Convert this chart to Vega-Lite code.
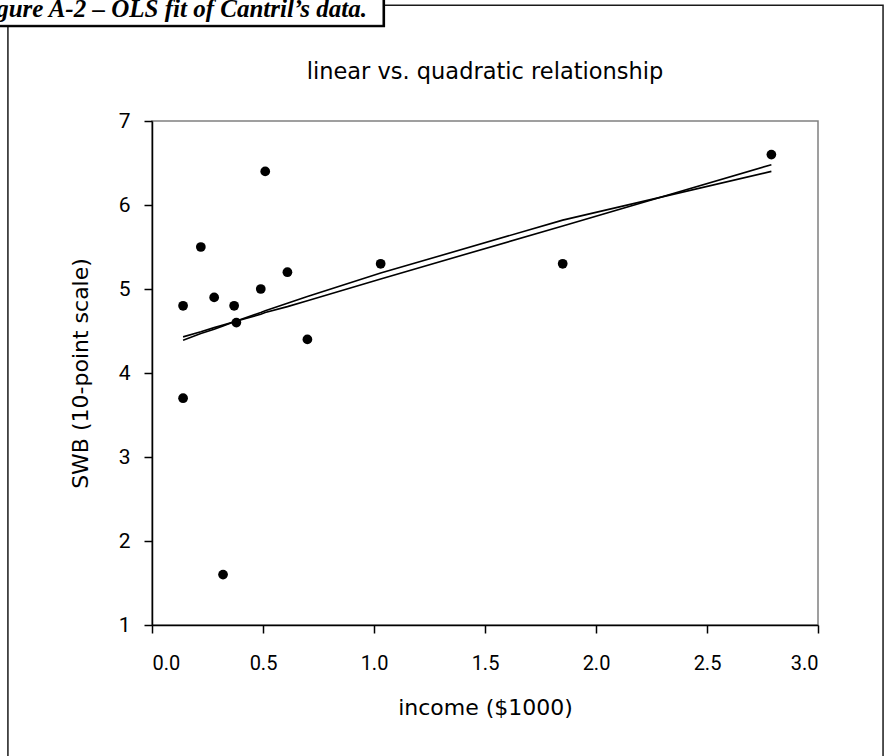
{
  "$schema": "https://vega.github.io/schema/vega-lite/v6.json",
  "width": 666,
  "height": 504,
  "autosize": {"type": "none"},
  "padding": {"left": 152, "top": 121, "right": 73, "bottom": 131},
  "background": "white",
  "title": {
    "text": "linear vs. quadratic relationship",
    "font": "DejaVu Sans",
    "fontSize": 22.5,
    "fontWeight": "normal",
    "color": "#000",
    "anchor": "middle",
    "frame": "group",
    "offset": -97.3
  },
  "config": {
    "view": {"stroke": "#808080", "strokeWidth": 1.5},
    "axis": {
      "grid": false,
      "domainColor": "#000",
      "domainWidth": 1.5,
      "tickColor": "#000",
      "tickWidth": 1.5,
      "tickSize": 8,
      "labelFont": "Roboto",
      "labelFontSize": 20,
      "labelColor": "#000",
      "titleFont": "DejaVu Sans",
      "titleFontSize": 22,
      "titleFontWeight": "normal",
      "titleColor": "#000"
    }
  },
  "datasets": {
    "obs": [
      {"income": 0.14, "swb": 4.8},
      {"income": 0.14, "swb": 3.7},
      {"income": 0.22, "swb": 5.5},
      {"income": 0.28, "swb": 4.9},
      {"income": 0.32, "swb": 1.6},
      {"income": 0.37, "swb": 4.8},
      {"income": 0.38, "swb": 4.6},
      {"income": 0.49, "swb": 5.0},
      {"income": 0.51, "swb": 6.4},
      {"income": 0.61, "swb": 5.2},
      {"income": 0.70, "swb": 4.4},
      {"income": 1.03, "swb": 5.3},
      {"income": 1.85, "swb": 5.3},
      {"income": 2.79, "swb": 6.6}
    ],
    "fits": [
      {"model": "linear", "income": 0.14, "swb": 4.43},
      {"model": "linear", "income": 0.22, "swb": 4.49},
      {"model": "linear", "income": 0.28, "swb": 4.54},
      {"model": "linear", "income": 0.32, "swb": 4.57},
      {"model": "linear", "income": 0.37, "swb": 4.61},
      {"model": "linear", "income": 0.49, "swb": 4.70},
      {"model": "linear", "income": 0.51, "swb": 4.72},
      {"model": "linear", "income": 0.61, "swb": 4.79},
      {"model": "linear", "income": 0.70, "swb": 4.86},
      {"model": "linear", "income": 1.03, "swb": 5.12},
      {"model": "linear", "income": 1.85, "swb": 5.75},
      {"model": "linear", "income": 2.79, "swb": 6.48},
      {"model": "quadratic", "income": 0.14, "swb": 4.39},
      {"model": "quadratic", "income": 0.22, "swb": 4.47},
      {"model": "quadratic", "income": 0.28, "swb": 4.52},
      {"model": "quadratic", "income": 0.32, "swb": 4.56},
      {"model": "quadratic", "income": 0.37, "swb": 4.61},
      {"model": "quadratic", "income": 0.49, "swb": 4.72},
      {"model": "quadratic", "income": 0.51, "swb": 4.74},
      {"model": "quadratic", "income": 0.61, "swb": 4.83},
      {"model": "quadratic", "income": 0.70, "swb": 4.91},
      {"model": "quadratic", "income": 1.03, "swb": 5.19},
      {"model": "quadratic", "income": 1.85, "swb": 5.82},
      {"model": "quadratic", "income": 2.79, "swb": 6.40}
    ]
  },
  "layer": [
    {
      "data": {"name": "fits"},
      "mark": {"type": "line", "color": "#000", "strokeWidth": 1.6},
      "encoding": {
        "x": {"field": "income", "type": "quantitative", "scale": {"domain": [0, 3]}, "axis": {"values": [0, 0.5, 1, 1.5, 2, 2.5, 3], "format": ".1f", "title": "income ($1000)", "labelPadding": 20, "titlePadding": 24}},
        "y": {"field": "swb", "type": "quantitative", "scale": {"domain": [1, 7]}, "axis": {"values": [1, 2, 3, 4, 5, 6, 7], "format": "d", "title": "SWB (10-point scale)", "labelPadding": 14, "titlePadding": 26, "labelFontSize": 21}},
        "detail": {"field": "model"}
      }
    },
    {
      "data": {"name": "obs"},
      "mark": {"type": "circle", "color": "#000", "opacity": 1, "size": 95},
      "encoding": {
        "x": {"field": "income", "type": "quantitative", "scale": {"domain": [0, 3]}, "axis": {"values": [0, 0.5, 1, 1.5, 2, 2.5, 3], "format": ".1f", "title": "income ($1000)", "labelPadding": 20, "titlePadding": 24}},
        "y": {"field": "swb", "type": "quantitative", "scale": {"domain": [1, 7]}, "axis": {"values": [1, 2, 3, 4, 5, 6, 7], "format": "d", "title": "SWB (10-point scale)", "labelPadding": 14, "titlePadding": 26, "labelFontSize": 21}}
      }
    },
    {
      "data": {"values": [{}]},
      "mark": {"type": "rect", "fill": null, "filled": false, "stroke": "#1a1a1a", "strokeWidth": 1.5},
      "encoding": {
        "x": {"datum": -0.649, "type": "quantitative", "scale": {"domain": [0, 3]}, "axis": {"values": [0, 0.5, 1, 1.5, 2, 2.5, 3], "format": ".1f", "title": "income ($1000)", "labelPadding": 20, "titlePadding": 24}},
        "x2": {"datum": 3.293},
        "y": {"datum": 8.377, "type": "quantitative", "scale": {"domain": [1, 7]}, "axis": {"values": [1, 2, 3, 4, 5, 6, 7], "format": "d", "title": "SWB (10-point scale)", "labelPadding": 14, "titlePadding": 26, "labelFontSize": 21}},
        "y2": {"datum": -0.75}
      }
    },
    {
      "data": {"values": [{}]},
      "mark": {"type": "rect", "fill": "#000", "stroke": null},
      "encoding": {
        "x": {"datum": -0.75, "type": "quantitative", "scale": {"domain": [0, 3]}, "axis": {"values": [0, 0.5, 1, 1.5, 2, 2.5, 3], "format": ".1f", "title": "income ($1000)", "labelPadding": 20, "titlePadding": 24}},
        "x2": {"datum": 1.050},
        "y": {"datum": 8.6, "type": "quantitative", "scale": {"domain": [1, 7]}, "axis": {"values": [1, 2, 3, 4, 5, 6, 7], "format": "d", "title": "SWB (10-point scale)", "labelPadding": 14, "titlePadding": 26, "labelFontSize": 21}},
        "y2": {"datum": 8.115}
      }
    },
    {
      "data": {"values": [{}]},
      "mark": {"type": "rect", "fill": "white", "stroke": "#000", "strokeWidth": 1},
      "encoding": {
        "x": {"datum": -0.75, "type": "quantitative", "scale": {"domain": [0, 3]}, "axis": {"values": [0, 0.5, 1, 1.5, 2, 2.5, 3], "format": ".1f", "title": "income ($1000)", "labelPadding": 20, "titlePadding": 24}},
        "x2": {"datum": 1.0405},
        "y": {"datum": 8.55, "type": "quantitative", "scale": {"domain": [1, 7]}, "axis": {"values": [1, 2, 3, 4, 5, 6, 7], "format": "d", "title": "SWB (10-point scale)", "labelPadding": 14, "titlePadding": 26, "labelFontSize": 21}},
        "y2": {"datum": 8.139}
      }
    },
    {
      "data": {"values": [{}]},
      "mark": {"type": "text", "text": "Figure A-2 – OLS fit of Cantril’s data.", "font": "Liberation Serif", "fontSize": 25, "fontStyle": "italic", "fontWeight": "bold", "align": "right", "baseline": "alphabetic", "color": "#000"},
      "encoding": {
        "x": {"datum": 0.9685, "type": "quantitative", "scale": {"domain": [0, 3]}, "axis": {"values": [0, 0.5, 1, 1.5, 2, 2.5, 3], "format": ".1f", "title": "income ($1000)", "labelPadding": 20, "titlePadding": 24}},
        "y": {"datum": 8.235, "type": "quantitative", "scale": {"domain": [1, 7]}, "axis": {"values": [1, 2, 3, 4, 5, 6, 7], "format": "d", "title": "SWB (10-point scale)", "labelPadding": 14, "titlePadding": 26, "labelFontSize": 21}}
      }
    }
  ]
}
